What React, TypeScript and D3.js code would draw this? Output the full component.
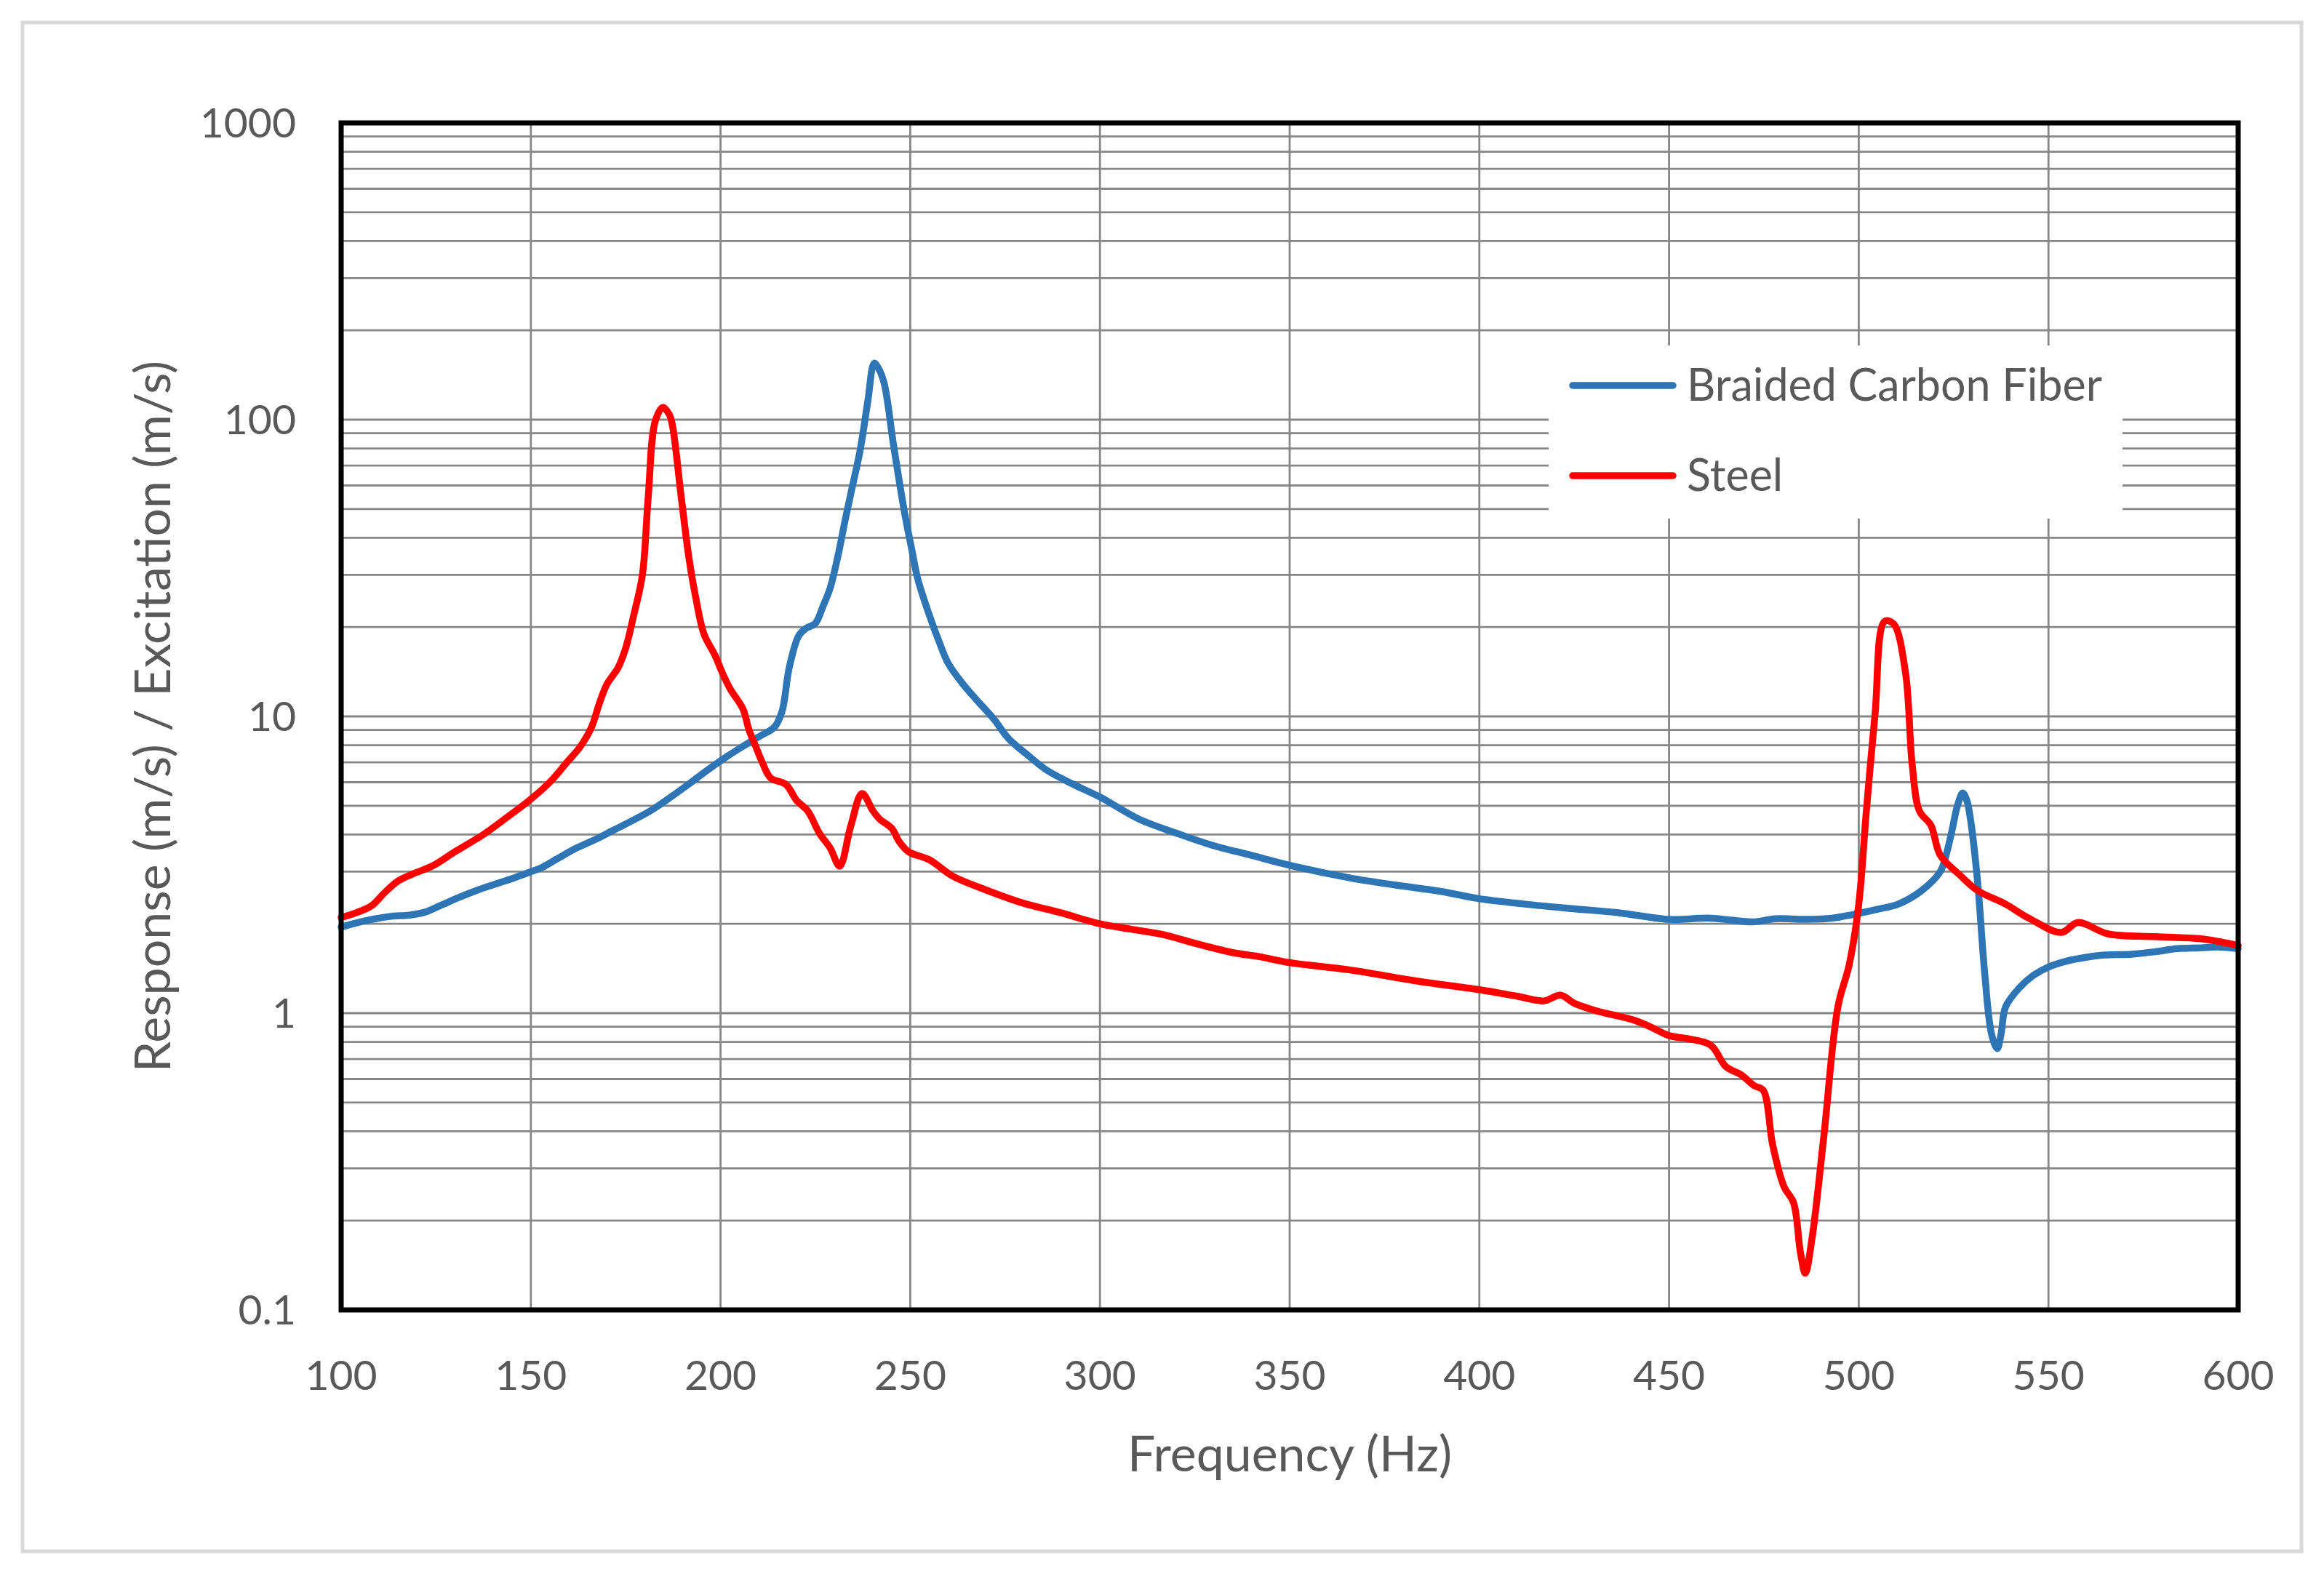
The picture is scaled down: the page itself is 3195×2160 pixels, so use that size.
import { useEffect, useRef } from "react";
import * as d3 from "d3";

const W = 3195;
const H = 2160;

const X_TICKS = [100, 150, 200, 250, 300, 350, 400, 450, 500, 550, 600];
const Y_TICKS = [0.1, 1, 10, 100, 1000];
const Y_TICK_LABELS = ["0.1", "1", "10", "100", "1000"];

const X_TITLE = "Frequency (Hz)";
const Y_TITLE = "Response (m/s) / Excitation (m/s)";
const SERIES_NAMES = ["Braided Carbon Fiber", "Steel"];
const SERIES_COLORS = ["#2E75B6", "#FF0000"];

// Hz
const CARBON_FREQ = [
  100, 105, 109, 113.2, 118, 122.1, 126, 130.9, 136, 141.7, 146, 149.5, 153, 157.4, 162, 167.2,
  172, 177, 182, 186.8, 191.5, 196.6, 201.5, 206.4, 210.5, 214.2, 216.2, 218.1, 220.6, 222.5,
  225, 227, 228.9, 231, 232.8, 234.8, 236.8, 238.8, 240.5, 241.5, 243.1, 245.6, 248.5, 250.5,
  252, 255, 257.5, 260, 264, 267.4, 272, 276, 281, 285.9, 293, 300, 310.4, 320, 329, 340, 350,
  365.7, 378, 390, 400, 412, 424.4, 436.7, 450, 461, 472, 478, 486, 493, 500, 505, 510.4, 516.6,
  521.5, 523, 524.6, 526, 527.4, 528.5, 529.5, 531.3, 533.2, 535, 536.5, 537.5, 538.7, 542.4,
  546, 550, 555, 559.6, 565, 571.9, 578, 584, 590, 595, 600,
];
const CARBON_RESP = [
  1.95, 2.03, 2.08, 2.12, 2.14, 2.19, 2.3, 2.45, 2.6, 2.75, 2.87, 2.98, 3.1, 3.34, 3.6, 3.86,
  4.15, 4.47, 4.85, 5.34, 5.9, 6.6, 7.3, 8.0, 8.6, 9.2, 10.4, 14.6, 18.7, 19.8,
  20.6, 23.5, 27.1, 35, 45.6, 60, 79, 115, 155, 150, 133, 82, 48.6, 36,
  29, 22, 18, 15.1, 12.8, 11.4, 9.8, 8.4, 7.4, 6.6, 5.9, 5.35, 4.5, 4.05, 3.7, 3.4, 3.15,
  2.86, 2.7, 2.57, 2.43, 2.33, 2.25, 2.18, 2.07, 2.09, 2.03, 2.08, 2.07, 2.09, 2.17, 2.24, 2.33, 2.59,
  3.0, 3.4, 4.14, 5.0, 5.52, 5.2, 4.45, 2.79, 1.36, 0.85, 0.76, 0.85, 1.05, 1.22,
  1.34, 1.43, 1.5, 1.54, 1.57, 1.58, 1.61, 1.65, 1.66, 1.67, 1.65,
];

const STEEL_FREQ = [
  100, 104, 108, 111.5, 115, 119, 124, 130, 137.5, 143, 149.5, 155, 159.5, 163, 166, 168, 170,
  173, 175, 177, 179.4, 180.9, 182.8, 184.8, 186.5, 187.3, 189.7, 191.7, 193.5, 195.6, 198.5,
  200.5, 202.5, 205.9, 207.5, 209.3, 211, 213.2, 217.2, 220.1, 223, 226, 228.9, 231.4, 234.3,
  237.3, 240.2, 242, 245.1, 247, 249.5, 255, 261.3, 270, 279.7, 289.6, 300, 308, 316.6, 325,
  335, 342, 350, 365.7, 384, 400, 410, 417, 421.4, 425, 430.6, 440.4, 445, 450, 455, 461, 465,
  469, 472.4, 474.8, 477.3, 480.3, 482.8, 484.6, 485.9, 487.7, 490.8, 494.5, 497.5, 500, 502,
  504.3, 506.8, 509.2, 512.3, 514.1, 516, 519, 521.5, 526.4, 531.3, 538.7, 544.8, 553.4, 557.7,
  565.7, 578, 590.3, 600,
];
const STEEL_RESP = [
  2.1, 2.18, 2.3, 2.55, 2.79, 2.95, 3.13, 3.5, 4.0, 4.5, 5.2, 6.0, 7.0, 7.9, 9.2, 11.0, 12.8,
  14.6, 17.0, 21.6, 30, 54, 99, 110, 104, 96, 54, 34, 25, 19, 16.1,
  14.0, 12.4, 10.6, 9.0, 7.9, 7.0, 6.2, 5.9, 5.2, 4.8, 4.05, 3.6, 3.13, 4.26,
  5.5, 4.8, 4.5, 4.2, 3.8, 3.5, 3.29, 2.89, 2.6, 2.35, 2.18, 2.0, 1.92, 1.84, 1.72,
  1.6, 1.55, 1.48, 1.4, 1.28, 1.2, 1.14, 1.1, 1.15, 1.08, 1.02, 0.95, 0.9, 0.84, 0.82, 0.78, 0.66,
  0.62, 0.57, 0.55, 0.36, 0.26, 0.23, 0.157, 0.133, 0.175, 0.385, 1.05, 1.46, 2.33, 4.8,
  10.2, 20.9, 20.5, 14.1, 6.85, 4.8, 4.3, 3.4, 2.94, 2.59, 2.33, 2.09, 1.87, 2.02,
  1.85, 1.81, 1.78, 1.69,
];

const FONT = "Lato, 'Noto Sans', sans-serif";
const TEXT = "#595959";

export default function App() {
  const ref = useRef<SVGSVGElement | null>(null);

  useEffect(() => {
    const svg = d3.select(ref.current);
    svg.selectAll("*").remove();

    const plot = { left: 469, right: 3077, top: 169, bottom: 1801 };

    const x = d3.scaleLinear().domain([100, 600]).range([plot.left, plot.right]);
    const y = d3.scaleLog().domain([0.1, 1000]).range([plot.bottom, plot.top]);

    // outer chart frame
    svg
      .append("rect")
      .attr("x", 31)
      .attr("y", 31)
      .attr("width", W - 62)
      .attr("height", H - 58)
      .attr("fill", "#fff")
      .attr("stroke", "#d9d9d9")
      .attr("stroke-width", 5);

    const grid = svg.append("g").attr("stroke", "#878787").attr("stroke-width", 2.8);

    // log gridlines, 1..9 per decade
    grid
      .selectAll(".hgrid")
      .data(y.ticks())
      .enter()
      .append("line")
      .attr("x1", plot.left)
      .attr("x2", plot.right)
      .attr("y1", (d) => y(d))
      .attr("y2", (d) => y(d));

    grid
      .selectAll(".vgrid")
      .data(X_TICKS)
      .enter()
      .append("line")
      .attr("x1", (d) => x(d))
      .attr("x2", (d) => x(d))
      .attr("y1", plot.top)
      .attr("y2", plot.bottom);

    // legend box sits over the gridlines
    const lg = svg.append("g");
    lg.append("rect")
      .attr("x", 2129)
      .attr("y", 475)
      .attr("width", 789)
      .attr("height", 238)
      .attr("fill", "#fff");

    const series = [
      { freq: CARBON_FREQ, resp: CARBON_RESP },
      { freq: STEEL_FREQ, resp: STEEL_RESP },
    ];

    const line = d3
      .line<[number, number]>()
      .x((d) => x(d[0]))
      .y((d) => y(d[1]))
      .curve(d3.curveCatmullRom.alpha(0.5));

    series.forEach((s, i) => {
      const pts = s.freq.map((f, j) => [f, s.resp[j]] as [number, number]);
      svg
        .append("path")
        .attr("d", line(pts))
        .attr("fill", "none")
        .attr("stroke", SERIES_COLORS[i])
        .attr("stroke-width", 9.5)
        .attr("stroke-linejoin", "round")
        .attr("stroke-linecap", "round");
    });

    // plot border
    svg
      .append("rect")
      .attr("x", plot.left)
      .attr("y", plot.top)
      .attr("width", plot.right - plot.left)
      .attr("height", plot.bottom - plot.top)
      .attr("fill", "none")
      .attr("stroke", "#000")
      .attr("stroke-width", 7);

    SERIES_NAMES.forEach((name, i) => {
      const cy = 530 + i * 124;
      lg.append("line")
        .attr("x1", 2162)
        .attr("x2", 2300)
        .attr("y1", cy)
        .attr("y2", cy)
        .attr("stroke", SERIES_COLORS[i])
        .attr("stroke-width", 9.5)
        .attr("stroke-linecap", "round");
      lg.append("text")
        .attr("x", 2319)
        .attr("y", cy)
        .attr("dy", "0.35em")
        .attr("font-family", FONT)
        .attr("font-size", 61)
        .attr("fill", TEXT)
        .text(name);
    });

    // tick labels
    svg
      .append("g")
      .selectAll("text")
      .data(Y_TICKS)
      .enter()
      .append("text")
      .attr("x", 407)
      .attr("y", (d) => y(d))
      .attr("dy", "0.35em")
      .attr("text-anchor", "end")
      .attr("font-family", FONT)
      .attr("font-size", 57)
      .attr("fill", TEXT)
      .text((_, i) => Y_TICK_LABELS[i]);

    svg
      .append("g")
      .selectAll("text")
      .data(X_TICKS)
      .enter()
      .append("text")
      .attr("x", (d) => x(d))
      .attr("y", 1891)
      .attr("dy", "0.35em")
      .attr("text-anchor", "middle")
      .attr("font-family", FONT)
      .attr("font-size", 57)
      .attr("fill", TEXT)
      .text((d) => String(d));

    svg
      .append("text")
      .attr("x", (plot.left + plot.right) / 2)
      .attr("y", 1999)
      .attr("dy", "0.35em")
      .attr("text-anchor", "middle")
      .attr("font-family", FONT)
      .attr("font-size", 68)
      .attr("fill", TEXT)
      .text(X_TITLE);

    svg
      .append("text")
      .attr("transform", `translate(210,${(plot.top + plot.bottom) / 2}) rotate(-90)`)
      .attr("dy", "0.35em")
      .attr("text-anchor", "middle")
      .attr("font-family", FONT)
      .attr("font-size", 68)
      .attr("fill", TEXT)
      .text(Y_TITLE);
  }, []);

  return (
    <svg
      ref={ref}
      width={W}
      height={H}
      style={{ position: "absolute", left: 0, top: 0, background: "#fff" }}
    />
  );
}
